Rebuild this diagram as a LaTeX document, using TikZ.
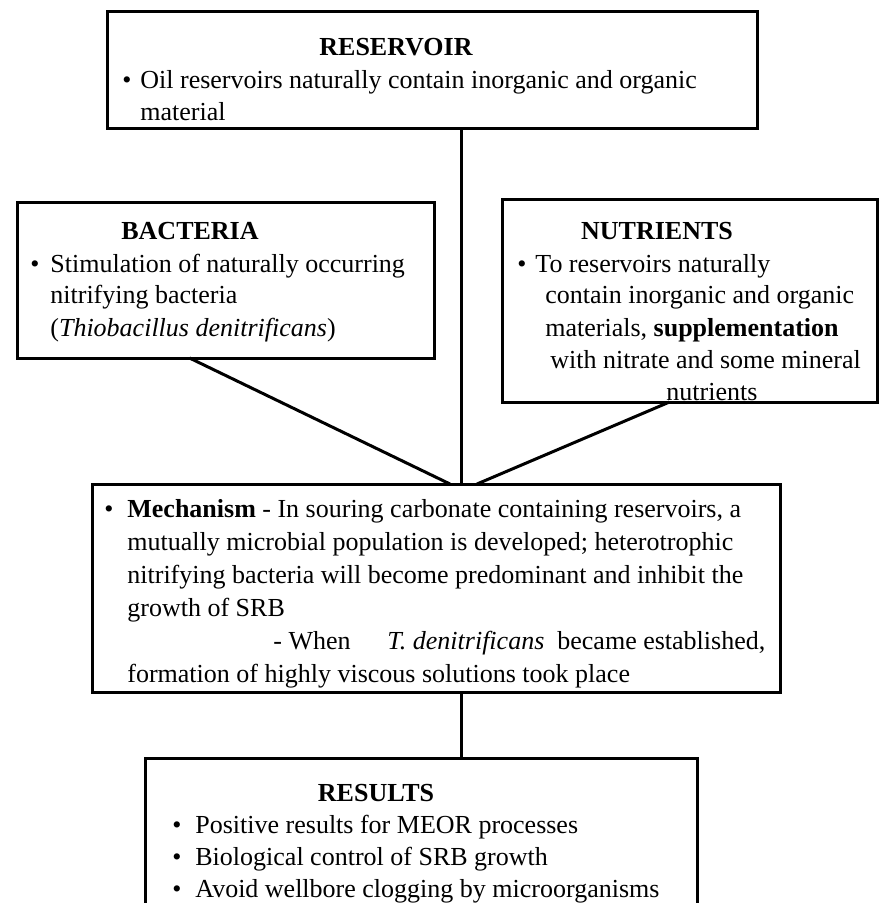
\documentclass[tikz,border=0pt]{standalone}
\usepackage{fontspec}
\setmainfont{Liberation Serif}
\begin{document}
\begin{tikzpicture}[x=0.5pt,y=-0.5pt,
  frame/.style={draw, line width=1.5pt, inner sep=0pt, outer sep=0pt},
  body/.style={inner sep=0pt, anchor=base west, font=\fontsize{13}{16}\selectfont},
  head/.style={inner sep=0pt, anchor=base, font=\fontsize{13}{16}\selectfont\bfseries},
  link/.style={line width=1.5pt}]
\useasboundingbox (0,0) rectangle (887,903);

% boxes (centre, size in pt = half the unit count)
\node[frame, minimum width=325pt, minimum height=58.5pt] (res) at (432,70.5) {};
\node[frame, minimum width=208.5pt, minimum height=77.5pt] (bac) at (225.5,280.5) {};
\node[frame, minimum width=187.5pt, minimum height=101pt] (nut) at (689.5,301) {};
\node[frame, minimum width=344pt, minimum height=104pt] (mech) at (436,588) {};
\node[frame, minimum width=276pt, minimum height=78.5pt] (resu) at (421,836.5) {};

% reservoir text
\node[head] (resH) at (396,56) {RESERVOIR};
\node[body] (resB) at (122,89) {•};
\node[body] (resT1) at (140,89) {Oil reservoirs naturally contain inorganic and organic};
\node[body] (resT2) at (140,121) {material};

% bacteria text
\node[head] (bacH) at (190,240) {BACTERIA};
\node[body] (bacB) at (30,272) {•};
\node[body] (bacT1) at (50,272) {Stimulation of naturally occurring};
\node[body] (bacT2) at (50,304) {nitrifying bacteria};
\node[body] (bacT3) at (50,336) {(\textit{Thiobacillus denitrificans})};

% nutrients text
\node[head] (nutH) at (657,240) {NUTRIENTS};
\node[body] (nutB) at (517,272) {•};
\node[body] (nutT1) at (535,272) {To reservoirs naturally};
\node[body] (nutT2) at (545,304) {contain inorganic and organic};
\node[body] (nutT3) at (545,336) {materials, \textbf{supplementation}};
\node[body] (nutT4) at (550,368) {with nitrate and some mineral};
\node[body] (nutT5) at (666,400) {nutrients};

% mechanism text
\node[body] (mechB) at (104,517) {•};
\node[body] (mechT1) at (127,517) {\textbf{Mechanism} - In souring carbonate containing reservoirs, a};
\node[body] (mechT2) at (127,550) {mutually microbial population is developed; heterotrophic};
\node[body] (mechT3) at (127,583) {nitrifying bacteria will become predominant and inhibit the};
\node[body] (mechT4) at (127,616) {growth of SRB};
\node[body] (mechT5a) at (273,649) {- When};
\node[body] (mechT5b) at (387,649) {\textit{T. denitrificans}};
\node[body] (mechT5c) at (557,649) {became established,};
\node[body] (mechT6) at (127,682) {formation of highly viscous solutions took place};

% results text
\node[head] (resuH) at (376,801) {RESULTS};
\node[body] (resuB1) at (172,833) {•};
\node[body] (resuT1) at (195,833) {Positive results for MEOR processes};
\node[body] (resuB2) at (172,865) {•};
\node[body] (resuT2) at (195,865) {Biological control of SRB growth};
\node[body] (resuB3) at (172,897) {•};
\node[body] (resuT3) at (195,897) {Avoid wellbore clogging by microorganisms};

% connectors meeting on the top edge of the mechanism box
\coordinate (hub) at (461,484);
\coordinate (hubL) at (450,484);
\coordinate (hubR) at (477,484);
\draw[link] (res.south -| hub) -- (hub);
\draw[link] ([xshift=-18pt]bac.south) -- (hubL);
\draw[link] ([xshift=-10pt]nut.south) -- (hubR);
\draw[link] (mech.south -| hub) -- (resu.north -| hub);
\end{tikzpicture}
\end{document}
